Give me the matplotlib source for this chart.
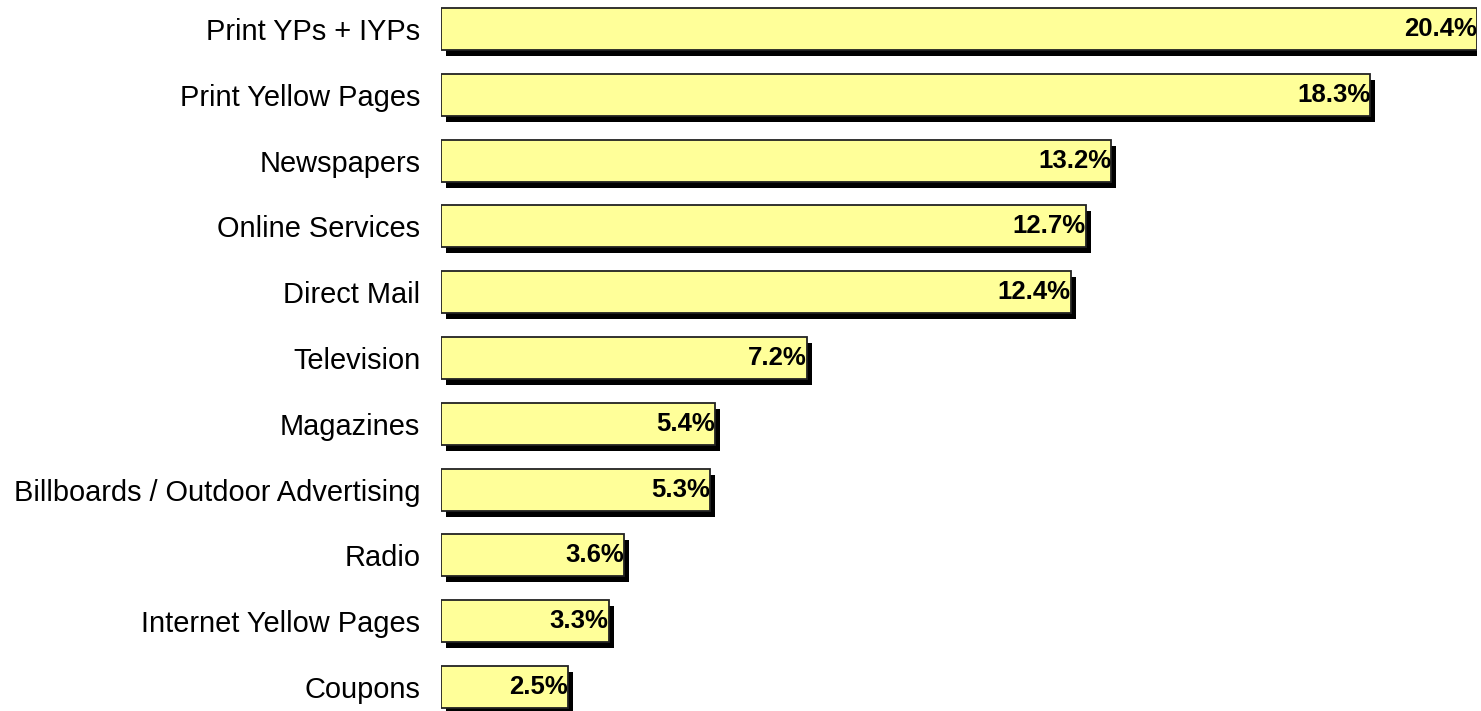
import matplotlib
matplotlib.use("Agg")
import matplotlib.pyplot as plt
import matplotlib.patheffects as pe

categories = ["Print YPs + IYPs", "Print Yellow Pages", "Newspapers", "Online Services",
              "Direct Mail", "Television", "Magazines", "Billboards / Outdoor Advertising",
              "Radio", "Internet Yellow Pages", "Coupons"]
values = [20.4, 18.3, 13.2, 12.7, 12.4, 7.2, 5.4, 5.3, 3.6, 3.3, 2.5]
value_labels = ["20.4%", "18.3%", "13.2%", "12.7%", "12.4%", "7.2%", "5.4%", "5.3%",
                "3.6%", "3.3%", "2.5%"]

plt.rcParams['font.family'] = ['Liberation Sans', 'DejaVu Sans']

fig = plt.figure(figsize=(14.81, 7.11), dpi=100)
ax = fig.add_axes([441 / 1481, -0.0125, 1036 / 1481, 1.018])

ypos = list(range(len(categories)))
bars = ax.barh(ypos, values, height=0.64, color="#FFFF99", edgecolor="#222222", linewidth=1.3)
for b in bars:
    b.set_path_effects([pe.SimplePatchShadow(offset=(3.6, -4.3), shadow_rgbFace="black", alpha=1),
                        pe.Normal()])

# value labels sit inside the bar end
for y, v, lab in zip(ypos, values, value_labels):
    ax.text(v, y, lab, ha="right", va="center", fontsize=18.5, fontweight="bold")

ax.set_xlim(0, 20.4)
ax.set_ylim(len(categories) - 0.5, -0.5)
ax.set_yticks(ypos)
ax.set_yticklabels(categories, fontsize=20.9)
ax.tick_params(axis="y", length=0, pad=15)
ax.set_xticks([])
for s in ax.spines.values():
    s.set_visible(False)

fig.savefig("out.png", dpi=100)
